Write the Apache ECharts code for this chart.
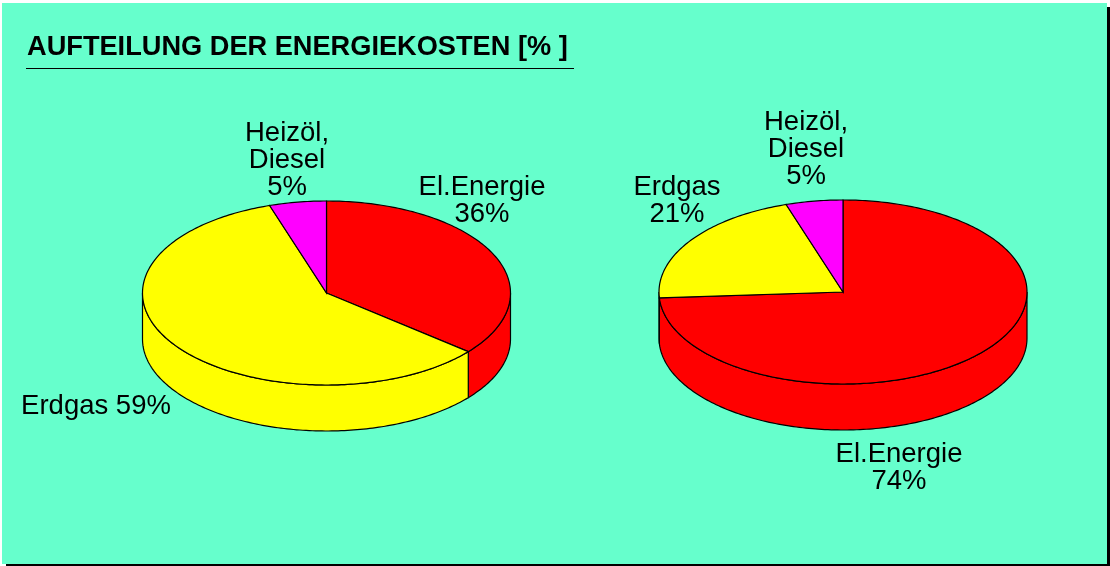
<!DOCTYPE html>
<html>
<head>
<meta charset="utf-8">
<style>
  html, body { margin: 0; padding: 0; background: #fff; }
  #chart { width: 1110px; height: 566px; }
</style>
<script src="https://cdn.jsdelivr.net/npm/echarts@6/dist/echarts.min.js"></script>
</head>
<body>
<div id="chart"></div>
<script>
const categories = ['El.Energie', 'Erdgas', 'Heizöl, Diesel'];
const valuesLeft = [36, 59, 5];
const valuesRight = [74, 21, 5];
const colors = ['#ff0000', '#ffff00', '#ff00ff'];
const labelsLeft = ['El.Energie\n36%', 'Erdgas 59%', 'Heizöl,\nDiesel\n5%'];
const labelsRight = ['El.Energie\n74%', 'Erdgas\n21%', 'Heizöl,\nDiesel\n5%'];
const titleText = 'AUFTEILUNG DER ENERGIEKOSTEN [% ]';

// label anchors, one per slice
const labelPosLeft = [[482, 201], [96, 406], [287, 160]];
const labelPosRight = [[899, 468], [677, 201], [806, 149]];

const RX = 184, RY = 92, DEPTH = 46;
const FONT = '"Liberation Sans", Arial, sans-serif';

// t is degrees clockwise from 12 o'clock, squashed onto the ellipse
const rimPoint = (c, t, drop) => {
  const a = t * Math.PI / 180;
  return [c[0] + RX * Math.sin(a), c[1] - RY * Math.cos(a) + drop];
};

const arcPoints = (c, from, to, drop) => {
  const pts = [];
  const n = Math.max(2, Math.ceil(Math.abs(to - from)));
  for (let i = 0; i <= n; i++) pts.push(rimPoint(c, from + (to - from) * i / n, drop));
  return pts;
};

const pieSeries = (name, values, labels, labelPos, center) => ({
  type: 'custom',
  name,
  coordinateSystem: 'none',
  silent: true,
  animation: false,
  data: values.map((v, i) => ({ name: categories[i], value: [v, i] })),
  renderItem: (params, api) => {
    const idx = api.value(1);
    const total = values.reduce((s, v) => s + v, 0);
    const before = values.slice(0, idx).reduce((s, v) => s + v, 0);
    const start = before / total * 360;
    const end = (before + api.value(0)) / total * 360;
    const lineStyle = { fill: colors[idx], stroke: '#000', lineWidth: 1.2 };
    const children = [];

    // only the front half of the rim (90..270) shows a wall
    const wallFrom = Math.max(start, 90);
    const wallTo = Math.min(end, 270);
    if (wallTo > wallFrom) {
      const top = arcPoints(center, wallFrom, wallTo, 0);
      const bottom = arcPoints(center, wallFrom, wallTo, DEPTH).reverse();
      children.push({
        type: 'polygon',
        shape: { points: top.concat(bottom) },
        style: lineStyle
      });
    }
    children.push({
      type: 'polygon',
      z2: 2,
      shape: { points: [center].concat(arcPoints(center, start, end, 0)) },
      style: lineStyle
    });
    children.push({
      type: 'text',
      z2: 3,
      style: {
        text: labels[idx],
        x: labelPos[idx][0],
        y: labelPos[idx][1],
        align: 'center',
        verticalAlign: 'middle',
        fill: '#000',
        font: '27.5px ' + FONT,
        lineHeight: 27
      }
    });
    return { type: 'group', children };
  }
});

const chart = echarts.init(document.getElementById('chart'), null, { renderer: 'canvas' });

chart.setOption({
  animation: false,
  backgroundColor: '#ffffff',
  title: {
    text: titleText,
    left: 27,
    top: 34,
    padding: 0,
    textStyle: { color: '#000', fontFamily: FONT, fontWeight: 'bold', fontSize: 27.2 }
  },
  graphic: [
    { type: 'rect', z: -3, silent: true, shape: { x: 6, y: 7, width: 1104, height: 559 }, style: { fill: '#000' } },
    { type: 'rect', z: -2, silent: true, shape: { x: 2, y: 3, width: 1105, height: 561 }, style: { fill: '#66ffcc' } },
    { type: 'line', z: 1, silent: true, shape: { x1: 26, y1: 68.5, x2: 574, y2: 68.5 }, style: { stroke: '#000', lineWidth: 1 } }
  ],
  series: [
    pieSeries('links', valuesLeft, labelsLeft, labelPosLeft, [326.5, 293]),
    pieSeries('rechts', valuesRight, labelsRight, labelPosRight, [843, 292])
  ]
});
</script>
</body>
</html>
